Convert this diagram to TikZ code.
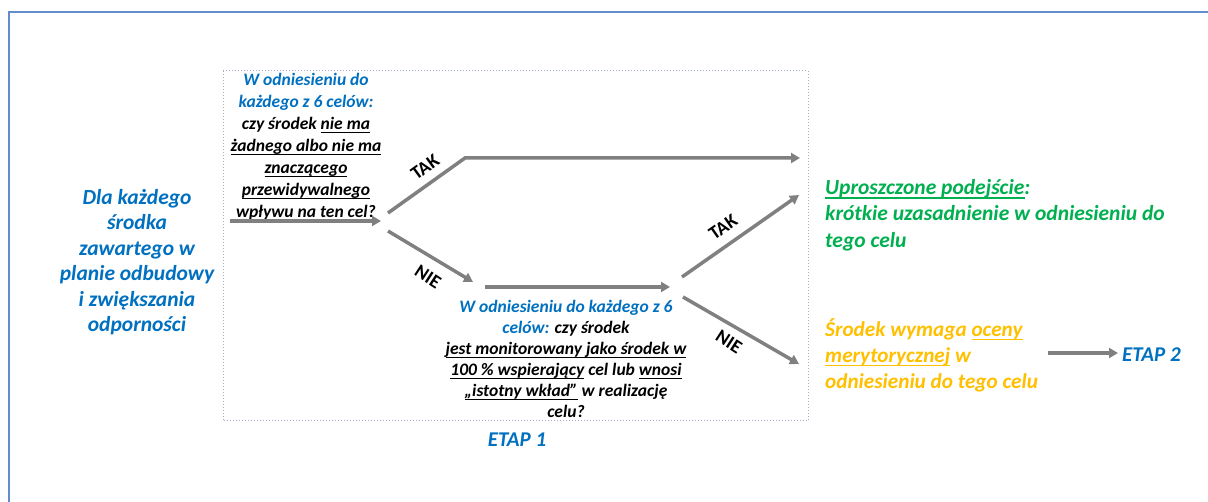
\documentclass[tikz,border=0pt]{standalone}
\usepackage{fontspec}
\setmainfont{Carlito}
\usetikzlibrary{arrows.meta}
\definecolor{myblue}{RGB}{0,112,192}
\definecolor{mygreen}{RGB}{0,176,80}
\definecolor{myyellow}{RGB}{255,192,0}
\definecolor{arrowgray}{RGB}{128,128,128}
\definecolor{framecol}{RGB}{100,140,205}
\definecolor{boxcol}{RGB}{160,175,195}
\newcommand{\myul}[1]{\begingroup\setbox0\hbox{#1}\rlap{\rule[-0.2em]{\wd0}{0.07em}}\box0\endgroup}
\tikzset{
  txt/.style={inner sep=0pt, align=center, font=\bfseries\itshape},
  flow/.style={draw=arrowgray, line width=3.5pt, -{Triangle[length=9pt,width=10pt]}},
  lbl/.style={inner sep=0pt, font=\fontsize{19}{20}\selectfont\bfseries},
}
\begin{document}
\begin{tikzpicture}[x=1pt,y=-1pt]
\useasboundingbox (0,0) rectangle (1208,502);
\fill[white] (0,0) rectangle (1208,502);
% outer frame
\draw[framecol, line width=2.5pt] (9,502) -- (9,12) -- (1208,12);
% dashed stage box
\draw[boxcol, dotted, line width=1pt] (223,71) rectangle (808,421);

% texts
\node[txt, text=myblue, font=\fontsize{21.5}{25.5}\selectfont\bfseries\itshape] (start) at (137,262)
  {Dla każdego\\środka\\zawartego w\\planie odbudowy\\i zwiększania\\odporności};

\node[txt, font=\fontsize{17.5}{22}\selectfont\bfseries\itshape] (q1) at (306,147)
  {\textcolor{myblue}{W odniesieniu do}\\\textcolor{myblue}{każdego z 6 celów:}\\czy środek \myul{nie ma}\\\myul{żadnego albo nie ma}\\\myul{znaczącego}\\\myul{przewidywalnego}\\\myul{wpływu} na ten cel?};

\node[txt, font=\fontsize{17.5}{21}\selectfont\bfseries\itshape] (q2) at (566,359)
  {\textcolor{myblue}{W odniesieniu do każdego z 6}\\\textcolor{myblue}{celów:} czy środek\\\myul{jest monitorowany jako środek w}\\\myul{100 \% wspierający} cel lub \myul{wnosi}\\\myul{„istotny wkład”} w realizację\\celu?};

\node[txt, text=mygreen, anchor=west, align=left, font=\fontsize{21.5}{26.5}\selectfont\bfseries\itshape] (simple) at (825,215)
  {\myul{Uproszczone podejście}:\\krótkie uzasadnienie w odniesieniu do\\tego celu};

\node[txt, text=myyellow, anchor=west, align=left, font=\fontsize{21.2}{26}\selectfont\bfseries\itshape] (assess) at (825,355)
  {Środek wymaga \myul{oceny}\\\myul{merytorycznej} w\\odniesieniu do tego celu};

\node[txt, text=myblue, anchor=west, font=\fontsize{21}{22}\selectfont\bfseries\itshape] (etap2) at (1122,355) {ETAP 2};
\node[txt, text=myblue, font=\fontsize{21}{22}\selectfont\bfseries\itshape] (etap1) at (517,440) {ETAP 1};

% coordinates
\coordinate (a0) at (230,221);
\coordinate (a1) at (381,221);
\coordinate (b0) at (388,213);
\coordinate (b1) at (465,158);
\coordinate (b2) at (800,158);
\coordinate (c0) at (388,231);
\coordinate (c1) at (473,282);
\coordinate (d0) at (485,287);
\coordinate (d1) at (670,287);
\coordinate (e0) at (682,277);
\coordinate (e1) at (799,195);
\coordinate (f0) at (683,297);
\coordinate (f1) at (799,364);
\coordinate (g0) at (1048,353);
\coordinate (g1) at (1118,353);

\draw[flow] (a0) -- (a1);
\draw[flow] (b0) -- (b1) -- (b2);
\draw[flow] (c0) -- (c1);
\draw[flow] (d0) -- (d1);
\draw[flow] (e0) -- (e1);
\draw[flow] (f0) -- (f1);
\draw[flow] (g0) -- (g1);

% branch labels
\node[lbl, rotate=36] (tak1) at (425,167) {TAK};
\node[lbl, rotate=-33] (nie1) at (428,277) {NIE};
\node[lbl, rotate=35] (tak2) at (723,227) {TAK};
\node[lbl, rotate=-33] (nie2) at (729,342) {NIE};
\end{tikzpicture}
\end{document}
